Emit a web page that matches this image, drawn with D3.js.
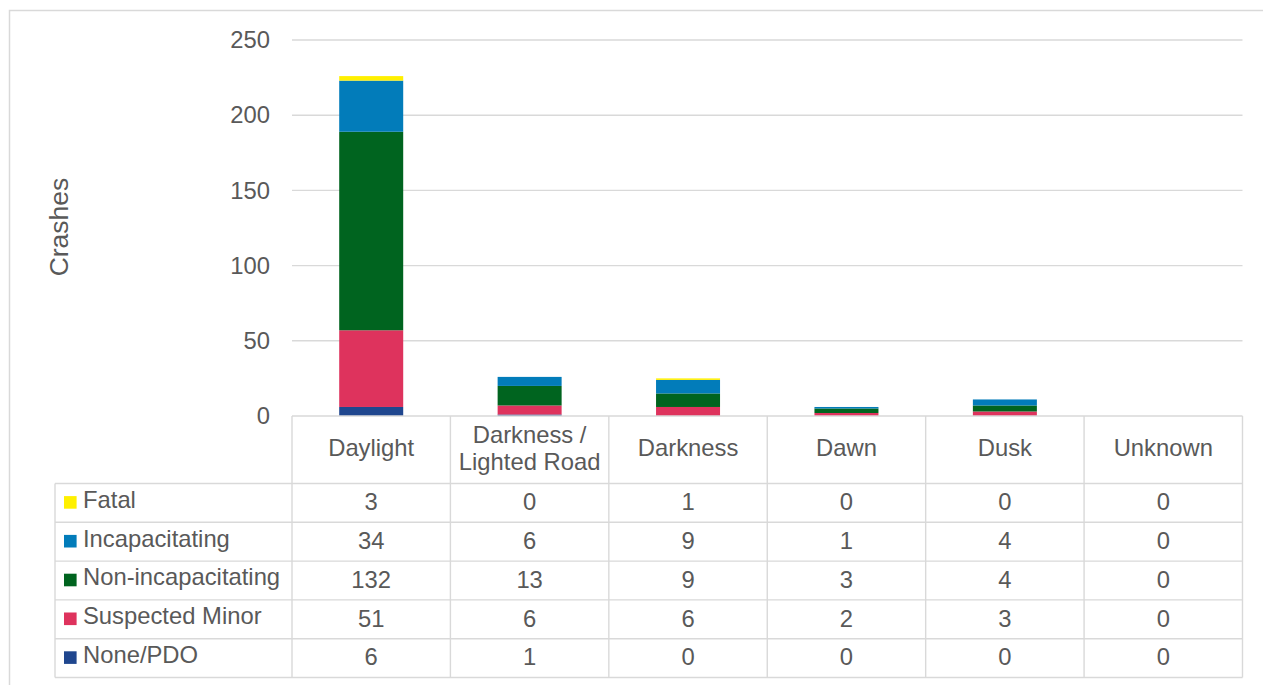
<!DOCTYPE html>
<html>
<head>
<meta charset="utf-8">
<script src="https://cdn.jsdelivr.net/npm/d3@7"></script>
<style>
  html, body { margin: 0; padding: 0; background: #fff; }
  svg { display: block; }
  text { font-family: "Liberation Sans", Arial, sans-serif; fill: #595959; }
</style>
</head>
<body>
<svg id="chart" width="1263" height="685"></svg>
<script>
// Crashes by light condition and injury severity
const categories = ["Daylight", "Darkness / Lighted Road", "Darkness", "Dawn", "Dusk", "Unknown"];
const categoryLines = [["Daylight"], ["Darkness /", "Lighted Road"], ["Darkness"], ["Dawn"], ["Dusk"], ["Unknown"]];

// Severity series, listed top row first (as in the table)
const seriesNames = ["Fatal", "Incapacitating", "Non-incapacitating", "Suspected Minor", "None/PDO"];
const fatal             = [3, 0, 1, 0, 0, 0];
const incapacitating    = [34, 6, 9, 1, 4, 0];
const nonIncapacitating = [132, 13, 9, 3, 4, 0];
const suspectedMinor    = [51, 6, 6, 2, 3, 0];
const nonePDO           = [6, 1, 0, 0, 0, 0];
const seriesValues = [fatal, incapacitating, nonIncapacitating, suspectedMinor, nonePDO];
const seriesColors = ["#FFF000", "#027CBA", "#00641F", "#DE335D", "#1F468E"];

const yTicks = [0, 50, 100, 150, 200, 250];
const yTitle = "Crashes";

const svg = d3.select("#chart");
const plot = { left: 292, right: 1242.5, top: 40, bottom: 416 };
const legendLeft = 55;
const headerBottom = 483.5;
const rowH = 38.8;
const gridColor = "#D9D9D9";
const fontSize = 23.8;

// Chart frame
svg.append("rect")
  .attr("x", 9.5).attr("y", 10.5)
  .attr("width", 1400).attr("height", 800)
  .attr("fill", "none").attr("stroke", gridColor).attr("stroke-width", 1.5);

const x = d3.scaleBand().domain(categories).range([plot.left, plot.right]).padding(0);
const xBar = d3.scaleBand().domain(categories).range([plot.left, plot.right])
  .paddingInner(0.596).paddingOuter(0.298);
const y = d3.scaleLinear().domain([0, 250]).range([plot.bottom, plot.top]);

// Gridlines
svg.append("g").selectAll("line").data(yTicks.filter(t => t > 0)).join("line")
  .attr("x1", plot.left).attr("x2", plot.right)
  .attr("y1", d => y(d)).attr("y2", d => y(d))
  .attr("stroke", gridColor).attr("stroke-width", 1.4);

// Y axis labels
const yAxis = d3.axisLeft(y).tickValues(yTicks).tickSize(0).tickPadding(0);
const yg = svg.append("g").attr("transform", `translate(270,0)`).call(yAxis);
yg.select(".domain").remove();
yg.selectAll("text")
  .attr("x", 0)
  .style("font-size", fontSize + "px")
  .style("font-family", '"Liberation Sans", Arial, sans-serif')
  .attr("fill", "#595959");

// Y axis title
svg.append("text")
  .attr("transform", `translate(68,227) rotate(-90)`)
  .attr("text-anchor", "middle")
  .style("font-size", "26.5px")
  .text(yTitle);

// Stacked bars (bottom: None/PDO, top: Fatal)
const rows = categories.map((c, i) => {
  const r = { category: c };
  seriesNames.forEach((s, k) => { r[s] = seriesValues[k][i]; });
  return r;
});
const stackKeys = seriesNames.slice().reverse();
const stacked = d3.stack().keys(stackKeys)(rows);
const colorOf = d3.scaleOrdinal().domain(seriesNames).range(seriesColors);

svg.append("g").selectAll("g").data(stacked).join("g")
  .attr("fill", d => colorOf(d.key))
  .selectAll("rect").data(d => d).join("rect")
  .attr("x", d => xBar(d.data.category))
  .attr("width", xBar.bandwidth())
  .attr("y", d => y(d[1]))
  .attr("height", d => y(d[0]) - y(d[1]));

// Data table
const table = svg.append("g");
const tableBottom = headerBottom + rowH * seriesNames.length;

// Horizontal lines
table.append("line")
  .attr("x1", plot.left).attr("x2", plot.right)
  .attr("y1", plot.bottom).attr("y2", plot.bottom)
  .attr("stroke", gridColor).attr("stroke-width", 1.4);
d3.range(seriesNames.length + 1).forEach(i => {
  const yy = headerBottom + i * rowH;
  table.append("line")
    .attr("x1", legendLeft).attr("x2", plot.right)
    .attr("y1", yy).attr("y2", yy)
    .attr("stroke", gridColor).attr("stroke-width", 1.4);
});

// Vertical lines
const colEdges = categories.map(c => x(c)).concat([plot.right]);
colEdges.forEach(xx => {
  table.append("line")
    .attr("x1", xx).attr("x2", xx)
    .attr("y1", plot.bottom).attr("y2", tableBottom)
    .attr("stroke", gridColor).attr("stroke-width", 1.4);
});
table.append("line")
  .attr("x1", legendLeft).attr("x2", legendLeft)
  .attr("y1", headerBottom).attr("y2", tableBottom)
  .attr("stroke", gridColor).attr("stroke-width", 1.4);

// Category headers
categories.forEach((c, i) => {
  const lines = categoryLines[i];
  const cy = (plot.bottom + headerBottom) / 2 - 2;
  const lh = 27;
  lines.forEach((ln, j) => {
    table.append("text")
      .attr("x", x(c) + x.bandwidth() / 2)
      .attr("y", cy + (j - (lines.length - 1) / 2) * lh)
      .attr("dy", "0.35em")
      .attr("text-anchor", "middle")
      .style("font-size", fontSize + "px")
      .text(ln);
  });
});

// Legend keys, series names and values
seriesNames.forEach((s, k) => {
  const cy = headerBottom + k * rowH + rowH / 2;
  table.append("rect")
    .attr("x", 64).attr("y", cy - 6.8)
    .attr("width", 12.6).attr("height", 12.6)
    .attr("fill", seriesColors[k]);
  table.append("text")
    .attr("x", 83).attr("y", cy - 3.5)
    .attr("dy", "0.35em")
    .style("font-size", fontSize + "px")
    .text(s);
  categories.forEach((c, i) => {
    table.append("text")
      .attr("x", x(c) + x.bandwidth() / 2)
      .attr("y", cy - 1)
      .attr("dy", "0.35em")
      .attr("text-anchor", "middle")
      .style("font-size", fontSize + "px")
      .text(seriesValues[k][i]);
  });
});
</script>
</body>
</html>
